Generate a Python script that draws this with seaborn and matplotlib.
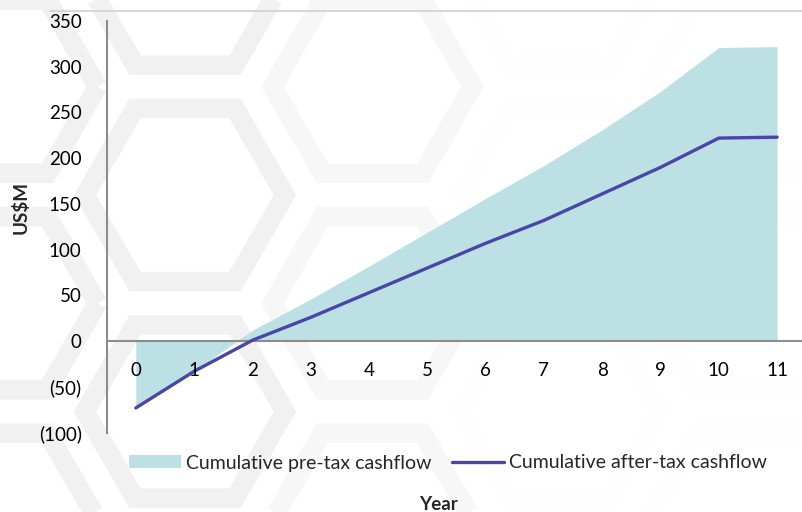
import matplotlib
matplotlib.use("Agg")
import matplotlib.pyplot as plt
import matplotlib.ticker as mticker
from matplotlib.lines import Line2D
from matplotlib.patches import Patch, Polygon
import numpy as np
import pandas as pd
import seaborn as sns

# Project cashflow profile (US$M)
years = [0, 1, 2, 3, 4, 5, 6, 7, 8, 9, 10, 11]
pre_tax_cumulative = [-73, -33, 12, 46, 82, 119, 156, 192, 231, 273, 321, 322]
after_tax_cumulative = [-73, -33, 1, 26, 53, 80, 107, 132, 161, 190, 222, 223]
year_labels = [str(y) for y in years]
y_ticks = [-100, -50, 0, 50, 100, 150, 200, 250, 300, 350]

df = pd.DataFrame({
    "year": years,
    "pre_tax": pre_tax_cumulative,
    "after_tax": after_tax_cumulative,
})

sns.set_theme(style="white")
plt.rcParams["font.family"] = ["Lato", "DejaVu Sans"]

AREA = "#bce0e3"
LINE = "#4846a8"
AXIS = "#8c8c8c"

W, H = 802, 512
fig = plt.figure(figsize=(W / 100, H / 100), dpi=100)

# faint honeycomb motif in the page background, fading out to the right
bg = fig.add_axes([0, 0, 1, 1], zorder=-1)
bg.set_xlim(0, W)
bg.set_ylim(H, 0)
bg.axis("off")
cell = 125.0
ring_r = 100.0
for col in range(-1, 4):
    cx = 185 + col * 1.5 * cell
    offset = (col % 2) * cell * np.sqrt(3) / 2
    for row in range(-2, 4):
        cy = 195 + row * cell * np.sqrt(3) + offset
        ang = np.deg2rad(np.arange(0, 360, 60))
        verts = np.column_stack([cx + ring_r * np.cos(ang), cy + ring_r * np.sin(ang)])
        fade = np.clip((cx - 180) / 380, 0, 1)
        shade = 0.945 + 0.05 * fade
        bg.add_patch(Polygon(verts, closed=True, fill=False, joinstyle="miter",
                             edgecolor=(shade, shade, shade), linewidth=14))

ax = fig.add_axes([0.133, 0.155, 0.8723, 0.804])
ax.set_axisbelow(False)

ax.fill_between(df["year"], 0, df["pre_tax"], color=AREA, linewidth=0, zorder=0.5)
sns.lineplot(data=df, x="year", y="after_tax", ax=ax, color=LINE,
             linewidth=2.4, zorder=2, legend=False)

ax.set_xlim(-0.5, 11.5)
ax.set_ylim(-100, 350)

# y axis
ax.set_yticks(y_ticks)
ax.yaxis.set_major_formatter(mticker.FuncFormatter(
    lambda v, _: f"({abs(int(v))})" if v < 0 else f"{int(v)}"))
ax.tick_params(axis="y", which="major", length=5, width=1.3, color=AXIS,
               direction="out", pad=13, labelsize=13.5, labelcolor="black")

# x axis: tick marks between categories, labels at category centres
ax.set_xticks(np.arange(0.5, 11.5, 1.0))
ax.set_xticklabels([])
ax.set_xticks(years, minor=True)
ax.set_xticklabels(year_labels, minor=True)
ax.tick_params(axis="x", which="major", length=5, width=1.3, color=AXIS,
               direction="out")
ax.tick_params(axis="x", which="minor", length=0, pad=15, labelsize=13.5,
               labelcolor="black")

ax.spines["bottom"].set_position(("data", 0))
for s in ["top", "right"]:
    ax.spines[s].set_visible(False)
for s in ["left", "bottom"]:
    ax.spines[s].set_color(AXIS)
    ax.spines[s].set_linewidth(1.5)
    ax.spines[s].set_zorder(1.5)

ax.set_xlabel("")
ax.set_ylabel("")
ax.patch.set_alpha(0)

fig.text(21 / W, 1 - 208 / H, "US$M", rotation=90, ha="center", va="center",
         fontsize=13.5, fontweight="bold")
fig.text(438 / W, 1 - 504 / H, "Year", ha="center", va="center",
         fontsize=13.5, fontweight="bold")

# thin frame line across the top
fig.add_artist(Line2D([50 / W, 1.0], [1 - 10.7 / H, 1 - 10.7 / H], color="#d0d0d0",
                      linewidth=1.2, transform=fig.transFigure))

handles = [
    Patch(facecolor=AREA, edgecolor="none", label="Cumulative pre-tax cashflow"),
    Line2D([0], [0], color=LINE, linewidth=2.4, label="Cumulative after-tax cashflow"),
]
fig.legend(handles=handles, loc="center", bbox_to_anchor=(448 / W, 1 - 463 / H),
           ncol=2, frameon=False, fontsize=14, handlelength=2.7,
           handleheight=0.6, handletextpad=0.26, columnspacing=1.03)

fig.savefig("out.png", dpi=100)
